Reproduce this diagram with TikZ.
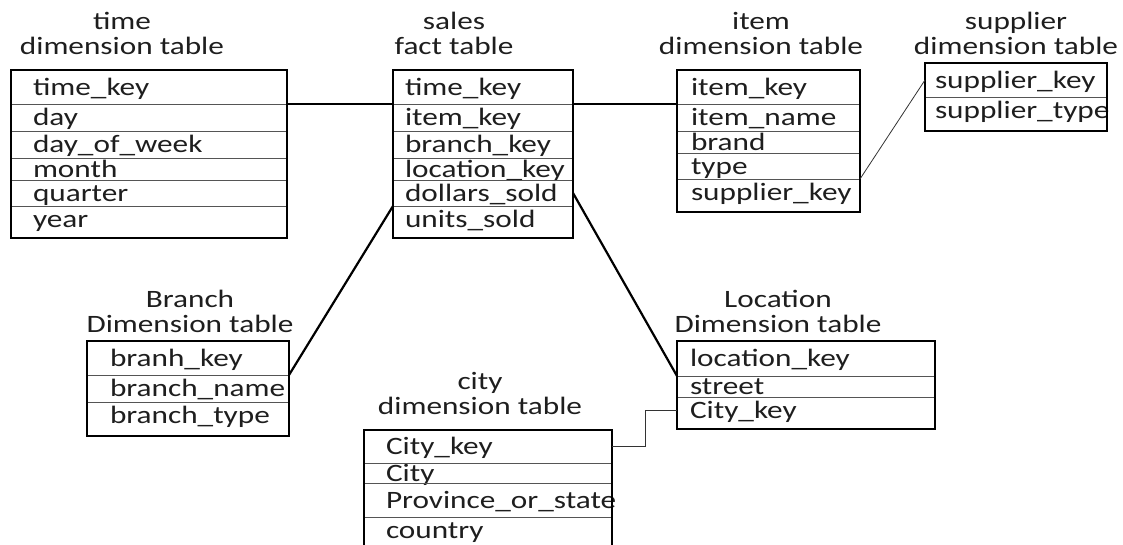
\documentclass[tikz,border=0pt]{standalone}
\usepackage{fontspec}
\setmainfont{Carlito}[FakeStretch=1.25]
\usepackage{xcolor}
\definecolor{ink}{HTML}{1E1E1E}
\definecolor{rule}{HTML}{555555}
\usepackage{tikz}
\usetikzlibrary{
    positioning,
}
\hyphenpenalty=10000

\begin{document}
\begin{tikzpicture}[%
    x=1pt, y=-1pt,
    every node/.style={
        font=\fontsize{25}{25}\selectfont,
        text=ink,
        outer sep=0,
    },
    title/.style={align=center},
    frame/.style={
        draw=black,
        line width=2.6pt,
        anchor=north west,
        inner sep=0,
    },
    field/.style={
        anchor=north west,
        inner ysep=0,
        align=left,
        text height=18pt,
        text depth=2pt,
    },
    divider/.style={draw=rule, line width=0.9pt},
    link/.style={draw=black, line width=2.2pt},
    thinlink/.style={draw=black!80, line width=0.8pt}
]

\clip (0,0) rectangle (1123,544);

% titles
\node[title] (timetitle) at (122,33) {time\\dimension table};
\node[title] (salestitle) at (454,33) {sales\\fact table};
\node[title] (itemtitle) at (761,33) {item\\dimension table};
\node[title] (suppliertitle) at (1016,33) {supplier\\dimension table};
\node[title] (branchtitle) at (190,311) {Branch\\Dimension table};
\node[title] (locationtitle) at (778,311) {Location\\Dimension table};
\node[title] (citytitle) at (480,393) {city\\dimension table};

% time dimension table
\foreach \y/\h/\txt [count=\i] in {70/34/time\_key, 104/27/day, 131/27/day\_of\_week,
        158/22/month, 180/26/quarter, 206/27/year}{
    \node[field, text width=232pt, inner xsep=22pt, minimum height=\h pt] (time\i) at (11,\y) {\txt};
    \draw[divider] (time\i.north west) -- (time\i.north east);
}
\node[frame, minimum width=276pt, minimum height=168pt] (time) at (11,70) {};

% sales fact table
\foreach \y/\h/\txt [count=\i] in {70/34/time\_key, 104/27/item\_key, 131/27/branch\_key,
        158/22/location\_key, 180/26/dollars\_sold, 206/27/units\_sold}{
    \node[field, text width=156pt, inner xsep=12pt, minimum height=\h pt] (sales\i) at (393,\y) {\txt};
    \draw[divider] (sales\i.north west) -- (sales\i.north east);
}
\node[frame, minimum width=180pt, minimum height=168pt] (sales) at (393,70) {};

% item dimension table
\foreach \y/\h/\txt [count=\i] in {70/34/item\_key, 104/27/item\_name, 131/22/brand,
        153/26/type, 179/27/supplier\_key}{
    \node[field, text width=155pt, inner xsep=14pt, minimum height=\h pt] (item\i) at (677,\y) {\txt};
    \draw[divider] (item\i.north west) -- (item\i.north east);
}
\node[frame, minimum width=183pt, minimum height=142pt] (item) at (677,70) {};

% supplier dimension table
\foreach \y/\h/\txt [count=\i] in {63/34/supplier\_key, 97/27/supplier\_type}{
    \node[field, text width=162pt, inner xsep=10pt, minimum height=\h pt] (supplier\i) at (925,\y) {\txt};
    \draw[divider] (supplier\i.north west) -- (supplier\i.north east);
}
\node[frame, minimum width=182pt, minimum height=68pt] (supplier) at (925,63) {};

% branch dimension table
\foreach \y/\h/\txt [count=\i] in {341/34/branh\_key, 375/27/branch\_name, 402/27/branch\_type}{
    \node[field, text width=156pt, inner xsep=23pt, minimum height=\h pt] (branch\i) at (87,\y) {\txt};
    \draw[divider] (branch\i.north west) -- (branch\i.north east);
}
\node[frame, minimum width=202pt, minimum height=95pt] (branch) at (87,341) {};

% location dimension table
\foreach \y/\h/\txt [count=\i] in {341/35/location\_key, 376/21/street, 397/27/City\_key}{
    \node[field, text width=232pt, inner xsep=13pt, minimum height=\h pt] (location\i) at (677,\y) {\txt};
    \draw[divider] (location\i.north west) -- (location\i.north east);
}
\node[frame, minimum width=258pt, minimum height=88pt] (location) at (677,341) {};

% city dimension table
\foreach \y/\h/\txt [count=\i] in {430/33/City\_key, 463/20/City, 483/34/Province\_or\_state,
        517/27/country}{
    \node[field, text width=204pt, inner xsep=22pt, minimum height=\h pt] (city\i) at (364,\y) {\txt};
    \draw[divider] (city\i.north west) -- (city\i.north east);
}
\node[frame, minimum width=248pt, minimum height=124pt] (city) at (364,430) {};

% links
\draw[link] (time2.north east) -- (sales2.north west);
\draw[link] (sales2.north east) -- (item2.north west);
\draw[link] (sales6.north west) -- (branch2.north east);
\draw[link] (sales5.east) -- (location2.north west);
\draw[thinlink] (item5.north east) -- (supplier1.west);
\draw[thinlink] (city1.east) -- ++(33,0) |- (location3.west);

\end{tikzpicture}
\end{document}
